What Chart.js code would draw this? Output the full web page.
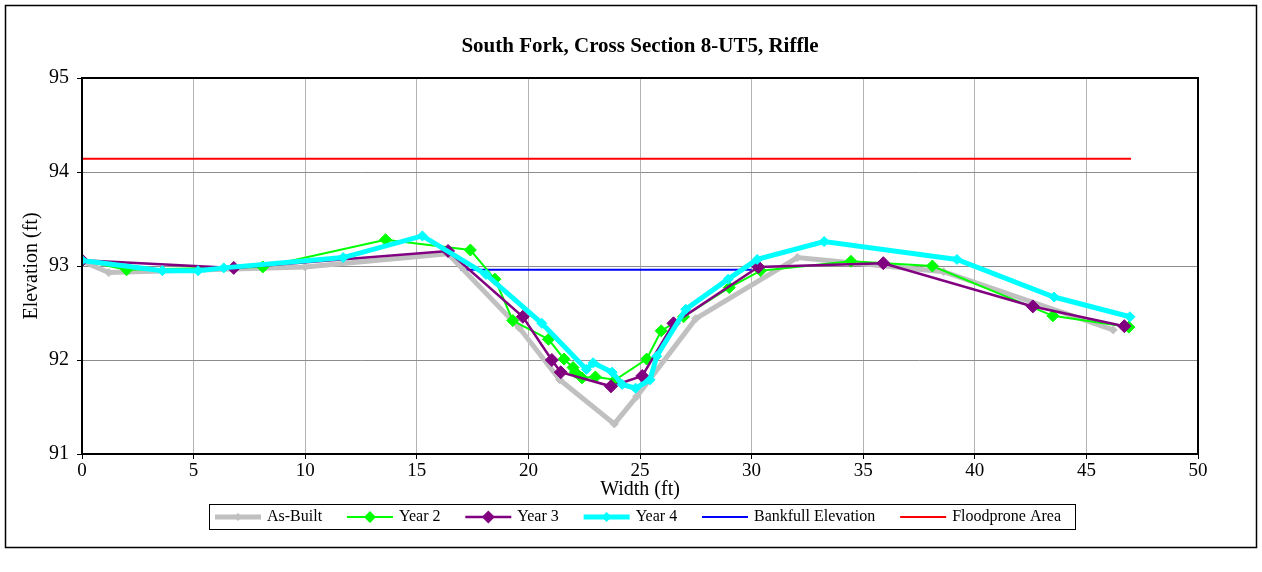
<!DOCTYPE html>
<html>
<head>
<meta charset="utf-8">
<title>South Fork, Cross Section 8-UT5, Riffle</title>
<script src="https://cdn.jsdelivr.net/npm/chart.js@4.4.1/dist/chart.umd.min.js"></script>
<style>
  html, body { margin: 0; padding: 0; background: #fff; }
  #wrap { width: 1262px; height: 572px; }
</style>
</head>
<body>
<div id="wrap"><canvas id="xsChart" width="1262" height="572"></canvas></div>
<script>
const chartTitle = 'South Fork, Cross Section 8-UT5, Riffle';
const xTitle = 'Width (ft)';
const yTitle = 'Elevation (ft)';
const seriesNames = ['As-Built', 'Year 2', 'Year 3', 'Year 4', 'Bankfull Elevation', 'Floodprone Area'];

// station (ft) / elevation (ft)
const asBuiltX = [0, 1.2, 10.0, 16.4, 19.6, 21.4, 23.85, 24.85, 27.5, 32.05, 38.6, 46.2];
const asBuiltY = [93.05, 92.93, 92.99, 93.13, 92.34, 91.79, 91.32, 91.61, 92.44, 93.09, 92.94, 92.32];

const year2X = [0, 2.0, 8.1, 13.6, 17.4, 18.5, 19.3, 20.9, 21.6, 22.0, 22.1, 22.4, 23.0, 23.9, 25.3, 25.95, 26.95, 29.0, 30.4, 34.45, 38.1, 43.5, 46.9];
const year2Y = [93.06, 92.96, 92.99, 93.28, 93.17, 92.86, 92.42, 92.22, 92.01, 91.92, 91.87, 91.81, 91.82, 91.79, 92.01, 92.31, 92.46, 92.77, 92.95, 93.05, 93.0, 92.47, 92.35];

const year3X = [0, 6.8, 16.4, 19.75, 21.05, 21.45, 23.7, 25.1, 26.5, 30.3, 35.9, 42.6, 46.7];
const year3Y = [93.06, 92.98, 93.16, 92.46, 92.0, 91.87, 91.72, 91.83, 92.39, 92.99, 93.03, 92.57, 92.36];

const year4X = [0, 3.6, 5.2, 6.35, 11.7, 15.25, 18.1, 20.6, 22.6, 22.9, 23.75, 24.2, 24.8, 25.45, 25.75, 27.05, 28.95, 30.25, 33.25, 39.2, 43.55, 46.95];
const year4Y = [93.06, 92.95, 92.95, 92.98, 93.09, 93.32, 92.91, 92.39, 91.9, 91.97, 91.87, 91.74, 91.7, 91.79, 92.04, 92.54, 92.86, 93.07, 93.26, 93.07, 92.67, 92.46];

const bankfullX = [16.95, 30.0];
const bankfullY = [92.96, 92.96];

const floodproneX = [0, 47.0];
const floodproneY = [94.14, 94.14];

const xTicks = [0, 5, 10, 15, 20, 25, 30, 35, 40, 45, 50];
const yTicks = [91, 92, 93, 94, 95];

const serif = "'Liberation Serif', 'Times New Roman', serif";

function pts(xs, ys) {
    return xs.map((x, i) => ({ x: x, y: ys[i] }));
}

const seriesStyle = [
    { color: '#c0c0c0', width: 5, radius: 4 },
    { color: '#00ff00', width: 2, radius: 6 },
    { color: '#800080', width: 2.5, radius: 6.5 },
    { color: '#00ffff', width: 5, radius: 5 },
    { color: '#0000ff', width: 2, radius: 0 },
    { color: '#ff0000', width: 2, radius: 0 }
];
const seriesData = [
    pts(asBuiltX, asBuiltY),
    pts(year2X, year2Y),
    pts(year3X, year3Y),
    pts(year4X, year4Y),
    pts(bankfullX, bankfullY),
    pts(floodproneX, floodproneY)
];
// later Excel series sit on top; reference lines sit underneath
const drawOrder = [4, 3, 2, 1, 5, 6];

const datasets = seriesNames.map((name, i) => ({
    label: name,
    data: seriesData[i],
    borderColor: seriesStyle[i].color,
    backgroundColor: seriesStyle[i].color,
    borderWidth: seriesStyle[i].width,
    pointStyle: 'rectRot',
    pointRadius: seriesStyle[i].radius,
    pointBorderWidth: 1,
    pointHoverRadius: seriesStyle[i].radius,
    tension: 0,
    order: drawOrder[i]
}));

const framePlugin = {
    id: 'frame',
    beforeDraw(chart) {
        const c = chart.ctx;
        c.save();
        c.fillStyle = '#fff';
        c.fillRect(0, 0, chart.width, chart.height);
        c.strokeStyle = '#000';
        c.lineWidth = 1.5;
        c.strokeRect(5.5, 5.5, 1251, 542);
        c.restore();
    },
    afterDraw(chart) {
        const c = chart.ctx;
        const a = chart.chartArea;
        c.save();
        c.strokeStyle = '#000';
        c.lineWidth = 2;
        c.strokeRect(a.left, a.top, a.right - a.left, a.bottom - a.top);

        // title
        c.fillStyle = '#000';
        c.font = 'bold 21px ' + serif;
        c.textAlign = 'center';
        c.textBaseline = 'middle';
        c.fillText(chartTitle, (a.left + a.right) / 2, 47);

        // legend
        const box = { x: 209, y: 504, w: 866, h: 25 };
        c.lineWidth = 1;
        c.strokeRect(box.x + 0.5, box.y + 0.5, box.w, box.h);
        c.font = '16px ' + serif;
        c.textAlign = 'left';
        const sample = 46, gapText = 6;
        const widths = seriesNames.map(n => c.measureText(n).width);
        const used = widths.reduce((s, w) => s + w + sample + gapText, 0);
        const gap = (box.w - 6 - 14 - used) / (seriesNames.length - 1);
        let x = box.x + 6;
        const cy = box.y + box.h / 2 + 0.5;
        seriesNames.forEach((name, i) => {
            const st = seriesStyle[i];
            c.strokeStyle = st.color;
            c.lineWidth = st.width;
            c.beginPath();
            c.moveTo(x, cy);
            c.lineTo(x + sample, cy);
            c.stroke();
            if (st.radius > 0) {
                const r = st.radius;
                const mx = x + sample / 2;
                c.fillStyle = st.color;
                c.beginPath();
                c.moveTo(mx, cy - r);
                c.lineTo(mx + r, cy);
                c.lineTo(mx, cy + r);
                c.lineTo(mx - r, cy);
                c.closePath();
                c.fill();
            }
            c.fillStyle = '#000';
            c.fillText(name, x + sample + gapText, cy);
            x += sample + gapText + widths[i] + gap;
        });
        c.restore();
    }
};

new Chart(document.getElementById('xsChart'), {
    type: 'line',
    data: { datasets: datasets },
    plugins: [framePlugin],
    options: {
        responsive: false,
        animation: false,
        devicePixelRatio: 1,
        layout: { padding: { top: 78, right: 64, left: 0, bottom: 0 } },
        plugins: {
            legend: { display: false },
            title: { display: false },
            tooltip: { enabled: false }
        },
        scales: {
            x: {
                type: 'linear',
                min: 0,
                max: 50,
                afterFit: s => { s.height = 118; },
                afterBuildTicks: s => { s.ticks = xTicks.map(v => ({ value: v })); },
                ticks: { color: '#000', font: { family: serif, size: 19 }, padding: 1, maxRotation: 0 },
                grid: { color: '#b4b4b4', lineWidth: 1, tickColor: '#000', tickLength: 5 },
                border: { color: '#000', width: 2 },
                title: { display: true, text: xTitle, color: '#000', font: { family: serif, size: 20 }, padding: { bottom: 70 } }
            },
            y: {
                type: 'linear',
                min: 91,
                max: 95,
                afterFit: s => { s.width = 82; },
                afterBuildTicks: s => { s.ticks = yTicks.map(v => ({ value: v })); },
                ticks: { color: '#000', font: { family: serif, size: 20 }, padding: 8 },
                grid: { color: '#8c8c8c', lineWidth: 1, tickColor: '#000', tickLength: 5 },
                border: { color: '#000', width: 2 },
                title: { display: true, text: yTitle, color: '#000', font: { family: serif, size: 20 }, padding: { top: 20 } }
            }
        }
    }
});
</script>
</body>
</html>
